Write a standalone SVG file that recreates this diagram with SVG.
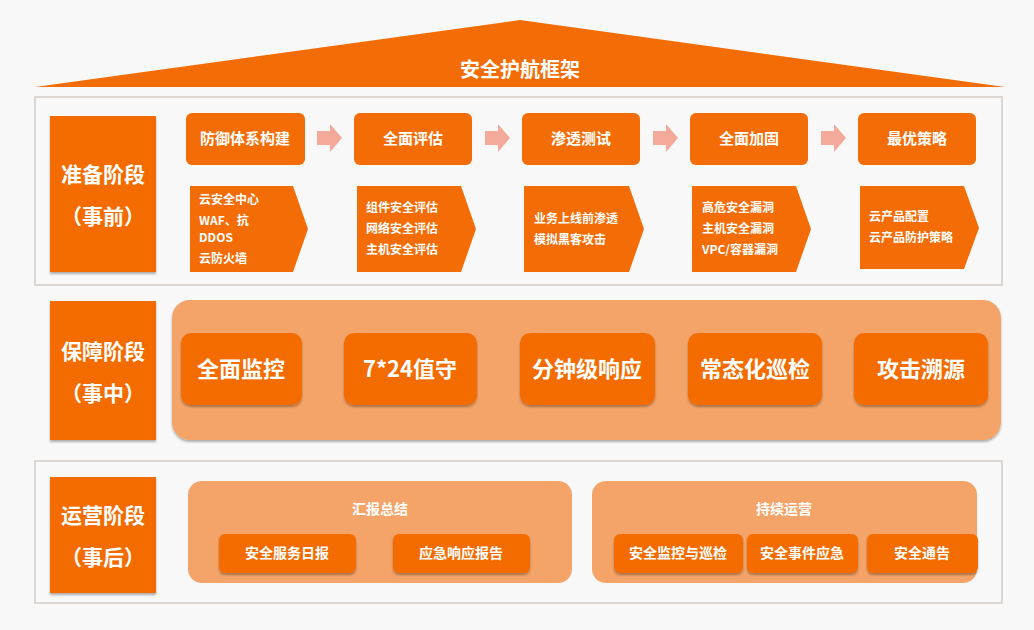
<svg xmlns="http://www.w3.org/2000/svg" width="1034" height="630" viewBox="0 0 1034 630">
<style>
text{font-family:"Noto Sans CJK SC","Liberation Sans",sans-serif;font-weight:bold;fill:#fff;text-anchor:middle}
.o{fill:#f46c05}
.p{fill:#f4a468}
.frame{fill:#f8f8f8;stroke:#dcd6d2;stroke-width:2}
.sh{filter:url(#s)}
.t1{font-size:15px}
.t2{font-size:12px;text-anchor:start}
.big{font-size:22px}
.stg{font-size:21px}
.btn{font-size:14px}
</style>
<defs>
<filter id="s" x="-10%" y="-10%" width="120%" height="130%"><feDropShadow dx="0" dy="2" stdDeviation="1.2" flood-color="#000" flood-opacity="0.3"/></filter>
</defs>
<rect width="1034" height="630" fill="#f8f8f8"/>
<g id="roof"><polygon class="o" points="35,87 520,20 1005,87"/><text x="520" y="77" font-size="20">安全护航框架</text></g>
<rect class="frame" x="35" y="97" width="967" height="188"/>
<rect class="frame" x="35" y="461" width="967" height="142"/>
<g id="stage1"><rect class="o sh" x="50" y="116" width="106" height="156"/><text class="stg" x="103" y="182">准备阶段</text><text class="stg" x="103" y="224">（事前）</text></g>
<g id="stage2"><rect class="o sh" x="50" y="301" width="106" height="139"/><text class="stg" x="103" y="359">保障阶段</text><text class="stg" x="103" y="401">（事中）</text></g>
<g id="stage3"><rect class="o sh" x="50" y="477" width="106" height="116"/><text class="stg" x="103" y="523">运营阶段</text><text class="stg" x="103" y="565">（事后）</text></g>
<g id="connectors" fill="#f4aa9a">
<polygon points="317,131 330,131 330,124 342,138 330,152 330,145 317,145"/>
<polygon points="485,131 498,131 498,124 510,138 498,152 498,145 485,145"/>
<polygon points="653,131 666,131 666,124 678,138 666,152 666,145 653,145"/>
<polygon points="821,131 834,131 834,124 846,138 834,152 834,145 821,145"/>
</g>
<g id="n1"><rect class="o" x="186" y="113" width="119" height="52" rx="6"/><text class="t1" x="245" y="144">防御体系构建</text></g>
<g id="n2"><rect class="o" x="354" y="113" width="118" height="52" rx="6"/><text class="t1" x="413" y="144">全面评估</text></g>
<g id="n3"><rect class="o" x="522" y="113" width="118" height="52" rx="6"/><text class="t1" x="581" y="144">渗透测试</text></g>
<g id="n4"><rect class="o" x="690" y="113" width="118" height="52" rx="6"/><text class="t1" x="749" y="144">全面加固</text></g>
<g id="n5"><rect class="o" x="858" y="113" width="118" height="52" rx="6"/><text class="t1" x="917" y="144">最优策略</text></g>
<g id="c1"><polygon class="o" points="190,186 293,186 308,229 293,272 190,272"/><text class="t2" x="199" y="204">云安全中心</text><text class="t2" x="199" y="225">WAF、抗</text><text class="t2" x="199" y="242">DDOS</text><text class="t2" x="199" y="263">云防火墙</text></g>
<g id="c2"><polygon class="o" points="357,186 461,186 476,229 461,272 357,272"/><text class="t2" x="366" y="212">组件安全评估</text><text class="t2" x="366" y="233">网络安全评估</text><text class="t2" x="366" y="254">主机安全评估</text></g>
<g id="c3"><polygon class="o" points="524,186 629,186 644,229 629,272 524,272"/><text class="t2" x="534" y="223">业务上线前渗透</text><text class="t2" x="534" y="244">模拟黑客攻击</text></g>
<g id="c4"><polygon class="o" points="692,186 796,186 811,229 796,272 692,272"/><text class="t2" x="702" y="212">高危安全漏洞</text><text class="t2" x="702" y="233">主机安全漏洞</text><text class="t2" x="702" y="254">VPC/容器漏洞</text></g>
<g id="c5"><polygon class="o" points="860,186 964,186 979,228 964,269 860,269"/><text class="t2" x="869" y="221">云产品配置</text><text class="t2" x="869" y="242">云产品防护策略</text></g>
<g id="panel2"><rect class="p sh" x="172" y="300" width="829" height="140" rx="18"/></g>
<g id="m1"><rect class="o sh" x="181" y="333" width="121" height="72" rx="10"/><text class="big" x="241" y="377">全面监控</text></g>
<g id="m2"><rect class="o sh" x="344" y="333" width="133" height="72" rx="10"/><text class="big" x="410" y="377">7*24值守</text></g>
<g id="m3"><rect class="o sh" x="520" y="333" width="135" height="72" rx="10"/><text class="big" x="587" y="377">分钟级响应</text></g>
<g id="m4"><rect class="o sh" x="688" y="333" width="134" height="72" rx="10"/><text class="big" x="755" y="377">常态化巡检</text></g>
<g id="m5"><rect class="o sh" x="854" y="333" width="134" height="72" rx="10"/><text class="big" x="921" y="377">攻击溯源</text></g>
<g id="panel3a"><rect class="p" x="188" y="481" width="384" height="102" rx="14"/><text class="btn" x="380" y="514">汇报总结</text></g>
<g id="panel3b"><rect class="p" x="592" y="481" width="385" height="102" rx="14"/><text class="btn" x="784" y="514">持续运营</text></g>
<g id="b1"><rect class="o sh" x="219" y="534" width="137" height="39" rx="6"/><text class="btn" x="287" y="558">安全服务日报</text></g>
<g id="b2"><rect class="o sh" x="393" y="534" width="137" height="39" rx="6"/><text class="btn" x="461" y="558">应急响应报告</text></g>
<g id="b3"><rect class="o sh" x="614" y="534" width="129" height="39" rx="6"/><text class="btn" x="678" y="558">安全监控与巡检</text></g>
<g id="b4"><rect class="o sh" x="747" y="534" width="111" height="39" rx="6"/><text class="btn" x="802" y="558">安全事件应急</text></g>
<g id="b5"><rect class="o sh" x="867" y="534" width="111" height="39" rx="6"/><text class="btn" x="922" y="558">安全通告</text></g>
</svg>
